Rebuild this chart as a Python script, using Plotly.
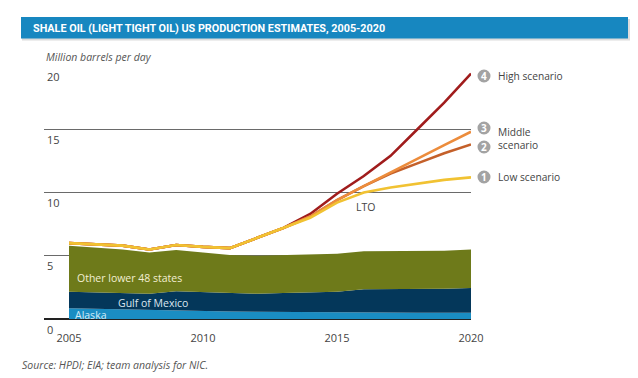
import plotly.graph_objects as go

years = list(range(2005, 2021))

# Stacked conventional production layers (million barrels per day)
alaska = [0.85, 0.80, 0.75, 0.70, 0.68, 0.65, 0.60, 0.57, 0.55, 0.52, 0.50, 0.50, 0.50, 0.50, 0.50, 0.50]
gulf_of_mexico = [1.30, 1.30, 1.30, 1.30, 1.52, 1.50, 1.45, 1.43, 1.50, 1.58, 1.65, 1.85, 1.85, 1.85, 1.90, 1.95]
other_lower48 = [3.65, 3.55, 3.45, 3.25, 3.25, 3.10, 3.00, 3.00, 3.00, 3.00, 3.00, 3.00, 3.00, 3.00, 3.00, 3.05]

# Total production incl. LTO, by scenario
high_scenario = [6.0, 5.9, 5.8, 5.5, 5.85, 5.7, 5.6, 6.4, 7.2, 8.3, 9.9, 11.3, 12.9, 15.0, 17.1, 19.4]
middle_3 = [6.0, 5.9, 5.8, 5.5, 5.85, 5.7, 5.6, 6.4, 7.2, 8.1, 9.4, 10.5, 11.6, 12.7, 13.75, 14.8]
middle_2 = [6.0, 5.9, 5.8, 5.5, 5.85, 5.7, 5.6, 6.4, 7.2, 8.1, 9.4, 10.5, 11.5, 12.3, 13.1, 13.8]
low_scenario = [6.0, 5.9, 5.8, 5.5, 5.85, 5.7, 5.6, 6.4, 7.2, 8.0, 9.2, 10.0, 10.4, 10.7, 11.0, 11.2]

y_ticks = [0, 5, 10, 15, 20]
x_ticks = [2005, 2010, 2015, 2020]

# the page body adds an 8px margin, so the figure is drawn 8px smaller
OFF = 8
W, H = 638 - OFF, 378 - OFF
L, R, T, B = 44, 471, 66, 319  # plot area in reference pixels


def px(xp):
    return (xp - L) / (R - L)


def py(yp):
    return (B - yp) / (B - T)


FONT = "Open Sans"
fig = go.Figure()

for name, vals, col in [("Alaska", alaska, "#1a8dc3"),
                        ("Gulf of Mexico", gulf_of_mexico, "#04375a"),
                        ("Other lower 48 states", other_lower48, "#6e7a1a")]:
    fig.add_trace(go.Scatter(x=years, y=vals, name=name, stackgroup="conv", mode="lines",
                             line=dict(width=0), fillcolor=col, hoverinfo="skip"))

for name, vals, col in [("High scenario", high_scenario, "#a01c1c"),
                        ("Scenario 2", middle_2, "#c4602a"),
                        ("Scenario 3", middle_3, "#ec8c3c"),
                        ("Low scenario", low_scenario, "#f1c232")]:
    fig.add_trace(go.Scatter(x=years, y=vals, name=name, mode="lines",
                             line=dict(color=col, width=2.6)))

x0 = 2005 - 25 / 26.8
fig.update_xaxes(range=[x0, 2020], tickvals=x_ticks, showgrid=False, zeroline=False,
                 showline=False, ticks="outside", ticklen=9, tickcolor="rgba(0,0,0,0)",
                 tickfont=dict(family=FONT, size=11, color="#444"))
fig.update_yaxes(range=[0, 20], tickvals=y_ticks, showgrid=True, gridcolor="#6a6a6a",
                 gridwidth=1, zeroline=True, zerolinecolor="#222", zerolinewidth=1.5,
                 showticklabels=False, showline=False)

ann = []
for v in y_ticks:
    ann.append(dict(x=px(45), xref="paper", y=v, yref="y", text=str(v), showarrow=False,
                    xanchor="left", yanchor="middle", yshift=-10,
                    font=dict(family=FONT, size=11, color="#444")))

ann += [
    dict(x=px(31), y=py(28.5), xref="paper", yref="paper", showarrow=False, xanchor="left",
         yanchor="middle", text="<b>SHALE OIL (LIGHT TIGHT OIL) US PRODUCTION ESTIMATES, 2005-2020</b>",
         font=dict(family="Roboto", size=10.8, color="white")),
    dict(x=px(44), y=py(57), xref="paper", yref="paper", showarrow=False, xanchor="left",
         yanchor="middle", text="<i>Million barrels per day</i>",
         font=dict(family=FONT, size=10.5, color="#555")),
    dict(x=px(20), y=py(365), xref="paper", yref="paper", showarrow=False, xanchor="left",
         yanchor="middle", text="<i>Source: HPDI; EIA; team analysis for NIC.</i>",
         font=dict(family=FONT, size=10.5, color="#555")),
    dict(x=2007.25, y=3.25, showarrow=False, text="Other lower 48 states",
         font=dict(family=FONT, size=10.5, color="#f3efd2")),
    dict(x=2008.15, y=1.3, showarrow=False, text="Gulf of Mexico",
         font=dict(family=FONT, size=10.5, color="#dce6ef")),
    dict(x=2005.8, y=0.33, showarrow=False, text="Alaska",
         font=dict(family=FONT, size=10.5, color="#d4ecf7")),
    dict(x=2016.05, y=8.85, showarrow=False, text="LTO",
         font=dict(family=FONT, size=10.5, color="#444")),
]

badges = [("4", 76), ("3", 128), ("2", 147), ("1", 177)]
side_labels = [("High scenario", 76), ("Middle<br>scenario", 138.5), ("Low scenario", 177)]
shapes = [
    dict(type="rect", xref="paper", yref="paper", x0=px(22), x1=px(630), y0=py(40.5), y1=py(19),
         fillcolor="#dcdcdc", line=dict(width=0), layer="below"),
    dict(type="rect", xref="paper", yref="paper", x0=px(21), x1=px(628), y0=py(38.5), y1=py(17),
         fillcolor="#1787c0", line=dict(width=0), layer="below"),
]
for num, yp in badges:
    shapes.append(dict(type="circle", xref="paper", yref="paper", x0=px(477.5), x1=px(490.5),
                       y0=py(yp + 6.5), y1=py(yp - 6.5), fillcolor="#a3a3a3", line=dict(width=0),
                       layer="below"))
    ann.append(dict(x=px(484), y=py(yp), xref="paper", yref="paper", showarrow=False,
                    xanchor="center", yanchor="middle",
                    text="<b>%s</b>" % num, font=dict(family=FONT, size=10, color="white")))
for label, yp in side_labels:
    ann.append(dict(x=px(496), y=py(yp), xref="paper", yref="paper", showarrow=False,
                    xanchor="left", yanchor="middle", align="left", text=label,
                    font=dict(family=FONT, size=10.2, color="#444")))

fig.update_layout(width=W, height=H, margin=dict(l=L - OFF, r=W - (R - OFF), t=T - OFF, b=H - (B - OFF)),
                  paper_bgcolor="white", plot_bgcolor="white", showlegend=False,
                  annotations=ann, shapes=shapes)

fig.write_html("out.html")
